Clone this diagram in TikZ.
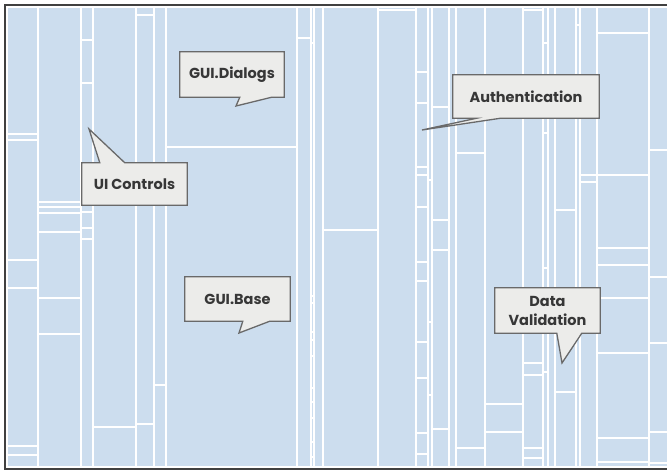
\documentclass[tikz,border=0pt]{standalone}
\usepackage{fontspec}
\newfontfamily\tagfont{Poppins}
\usetikzlibrary{calc}
\definecolor{mapblue}{RGB}{204,221,238}
\definecolor{tagfill}{RGB}{236,236,234}
\definecolor{tagline}{RGB}{105,105,105}
\definecolor{tagink}{RGB}{55,55,55}
\pgfdeclarelayer{map}
\pgfdeclarelayer{bubbles}
\pgfsetlayers{map,bubbles,main}
\tikzset{
cell/.style = {draw=white, line width=1.6pt},
tick/.style = {draw=white, line width=1.1pt},
frame/.style = {draw=black!75, line width=1.2pt},
bubble/.style = {draw=tagline, fill=tagfill, line width=1.3pt, line join=miter},
tagtext/.style = {font=\tagfont\bfseries\fontsize{14.5}{19}\selectfont, text=tagink, align=center, inner sep=0pt}
}

\begin{document}
\begin{tikzpicture}[x=1pt, y=-1pt]
\useasboundingbox (0,0) rectangle (667,471);

% treemap
\begin{pgfonlayer}{map}
\fill[mapblue] (5,5) rectangle (667,469);
\draw[cell] (667,7) -- (7,7) -- (7,467) -- (667,467);
\foreach \x in {38,81,93,136,154,166,297,311,314,323,378,416,428,432,449,456,485,523,543,548,555,576,580,597,649}
  \draw[cell] (\x,7) -- (\x,467);
\foreach \xa/\xb/\y in {7/38/134, 7/38/140, 7/38/260, 7/38/288, 7/38/446, 7/38/455,
    38/81/202, 38/81/207, 38/81/213, 38/81/232, 38/81/298, 38/81/334,
    81/93/40, 81/93/83, 81/93/212, 81/93/228, 81/93/239,
    93/136/427, 136/154/15, 136/154/424, 154/166/385, 166/297/147,
    297/311/38, 311/314/43, 323/378/230, 378/416/10,
    416/428/72, 416/428/103, 416/428/167, 416/428/175, 416/428/207, 416/428/262,
    416/428/281, 416/428/342, 416/428/378, 416/428/433, 416/428/454,
    432/449/107, 432/449/220, 432/449/250, 432/449/429,
    456/485/153, 456/485/448, 485/523/404, 485/523/432,
    523/543/10, 523/543/363, 523/543/375, 523/543/448, 523/543/458,
    555/576/210, 555/576/392, 580/597/175, 580/597/182,
    597/649/33, 597/649/175, 597/649/248, 597/649/265, 597/649/298,
    597/649/353, 597/649/438, 597/649/462,
    649/667/150, 649/667/277, 649/667/343, 649/667/432, 649/667/463}
  \draw[cell] (\xa,\y) -- (\xb,\y);
\foreach \xa/\xb/\y in {311/314/296, 311/314/303, 311/314/332, 311/314/340, 311/314/356,
    311/314/388, 311/314/402, 311/314/418, 311/314/442, 311/314/457,
    428/432/180, 428/432/322, 428/432/395, 543/548/43, 543/548/133,
    543/548/268, 543/548/372, 548/555/90, 548/555/300, 576/580/25, 576/580/330}
  \draw[tick] (\xa,\y) -- (\xb,\y);
\draw[frame] (667,5) -- (5,5) -- (5,469) -- (667,469);
\end{pgfonlayer}

% labels
\node[tagtext, minimum width=104pt, minimum height=45pt] (dialogs) at (232,74.5) {GUI.Dialogs};
\node[tagtext, minimum width=105pt, minimum height=42pt] (controls) at (134.5,184) {UI Controls};
\node[tagtext, minimum width=146pt, minimum height=43pt] (auth) at (526,96.5) {Authentication};
\node[tagtext, minimum width=105pt, minimum height=44pt] (base) at (237.5,299) {GUI.Base};
\node[tagtext, minimum width=105pt, minimum height=45pt] (valid) at (547.5,310.5) {Data\\Validation};

\coordinate (dialogs-tip) at (236,106);
\coordinate (controls-tip) at (89,129);
\coordinate (auth-tip) at (422,130);
\coordinate (base-tip) at (239,333);
\coordinate (valid-tip) at (562,363);

\begin{pgfonlayer}{bubbles}
\draw[bubble] (dialogs.north west) -- (dialogs.north east) -- (dialogs.south east)
  -- ($(dialogs.south west)+(92,0)$) -- (dialogs-tip) -- ($(dialogs.south west)+(60,0)$)
  -- (dialogs.south west) -- cycle;
\draw[bubble] (controls.south west) -- (controls.north west) -- ($(controls.north west)+(18,0)$)
  -- (controls-tip) -- ($(controls.north west)+(43,0)$) -- (controls.north east)
  -- (controls.south east) -- cycle;
\draw[bubble] (auth.north west) -- (auth.north east) -- (auth.south east)
  -- ($(auth.south west)+(48,0)$) -- (auth-tip) -- ($(auth.south west)+(24,0)$)
  -- (auth.south west) -- cycle;
\draw[bubble] (base.north west) -- (base.north east) -- (base.south east)
  -- ($(base.south west)+(85,0)$) -- (base-tip) -- ($(base.south west)+(58,0)$)
  -- (base.south west) -- cycle;
\draw[bubble] (valid.north west) -- (valid.north east) -- (valid.south east)
  -- ($(valid.south west)+(87,0)$) -- (valid-tip) -- ($(valid.south west)+(62,0)$)
  -- (valid.south west) -- cycle;
\end{pgfonlayer}
\end{tikzpicture}
\end{document}
